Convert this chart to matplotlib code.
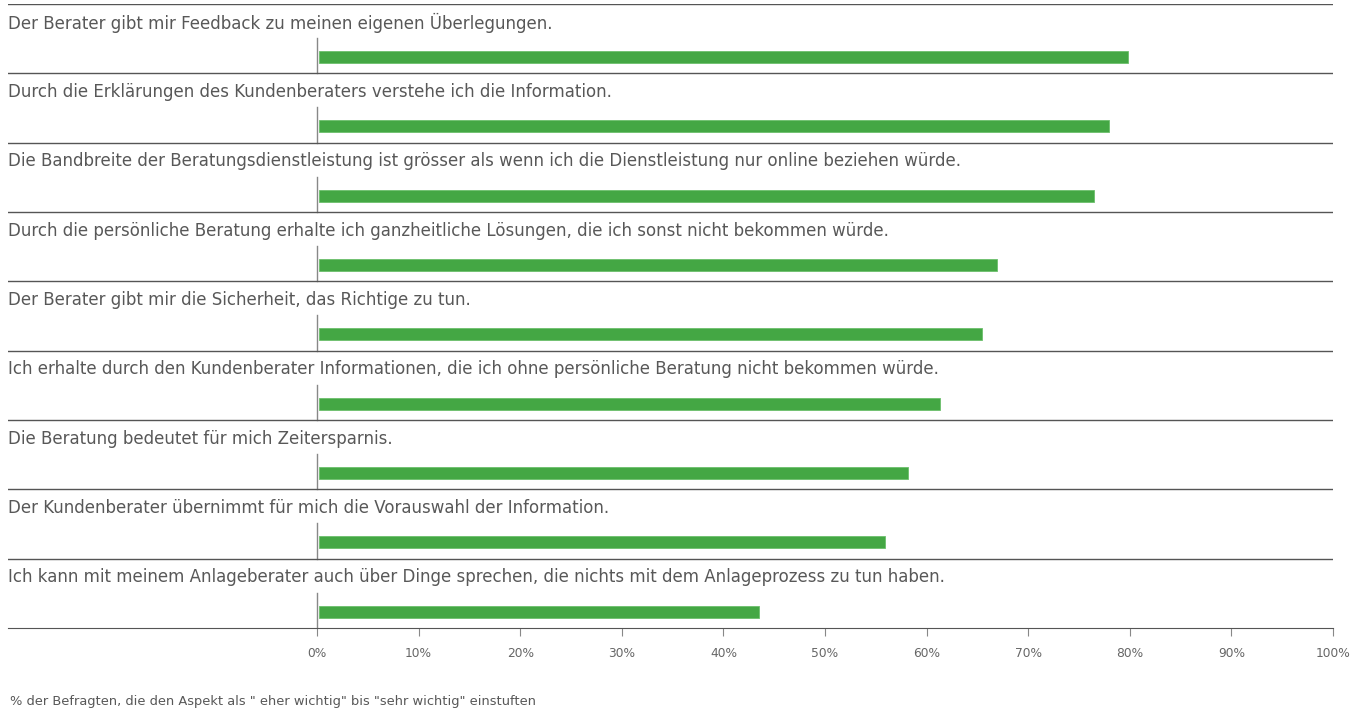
import matplotlib
matplotlib.use("Agg")
import matplotlib.pyplot as plt

# statements, top to bottom
labels = [
    "Der Berater gibt mir Feedback zu meinen eigenen Überlegungen.",
    "Durch die Erklärungen des Kundenberaters verstehe ich die Information.",
    "Die Bandbreite der Beratungsdienstleistung ist grösser als wenn ich die Dienstleistung nur online beziehen würde.",
    "Durch die persönliche Beratung erhalte ich ganzheitliche Lösungen, die ich sonst nicht bekommen würde.",
    "Der Berater gibt mir die Sicherheit, das Richtige zu tun.",
    "Ich erhalte durch den Kundenberater Informationen, die ich ohne persönliche Beratung nicht bekommen würde.",
    "Die Beratung bedeutet für mich Zeitersparnis.",
    "Der Kundenberater übernimmt für mich die Vorauswahl der Information.",
    "Ich kann mit meinem Anlageberater auch über Dinge sprechen, die nichts mit dem Anlageprozess zu tun haben.",
]
values = [79.7, 77.8, 76.3, 66.8, 65.3, 61.2, 58.0, 55.8, 43.4]
ticks = list(range(0, 101, 10))
tick_labels = [f"{t}%" for t in ticks]
footnote = '% der Befragten, die den Aspekt als " eher wichtig" bis "sehr wichtig" einstuften'

W, H = 1362, 709
fig = plt.figure(figsize=(W / 100, H / 100), dpi=100)
plt.rcParams['font.family'] = ['DejaVu Sans']

# axes: x from 8px to 1333px, y from 4px to 628px
left, right, top, bottom = 8, 1333, 4, 628
ax = fig.add_axes([left / W, 1 - bottom / H, (right - left) / W, (bottom - top) / H])
x0 = -(317 - left) / (right - 317) * 100
ax.set_xlim(x0, 100)
ax.set_ylim(len(labels), 0)

green = "#44a744"
for i, (lab, v) in enumerate(zip(labels, values)):
    ax.axhline(i, color="#555555", lw=1)
    ax.text(x0, i + 0.27, lab, ha="left", va="center", fontsize=12, color="#585858")
    ax.plot([0, 0], [i + 0.49, i + 1], color="#888888", lw=1)
    ax.barh(i + 0.765, v, left=0.15, height=0.175, color=green, edgecolor="#6cbf6c", lw=0.6)

for s in ["top", "left", "right"]:
    ax.spines[s].set_visible(False)
ax.spines["bottom"].set_color("#555555")
ax.set_yticks([])
ax.set_xticks(ticks)
ax.set_xticklabels(tick_labels, color="#666666", fontsize=8.8)
ax.tick_params(axis="x", length=6, color="#888888", pad=8)

fig.text(10 / W, 1 - 702 / H, footnote, fontsize=9.4, color="#585858", va="center")

fig.savefig("out.png", dpi=100)
